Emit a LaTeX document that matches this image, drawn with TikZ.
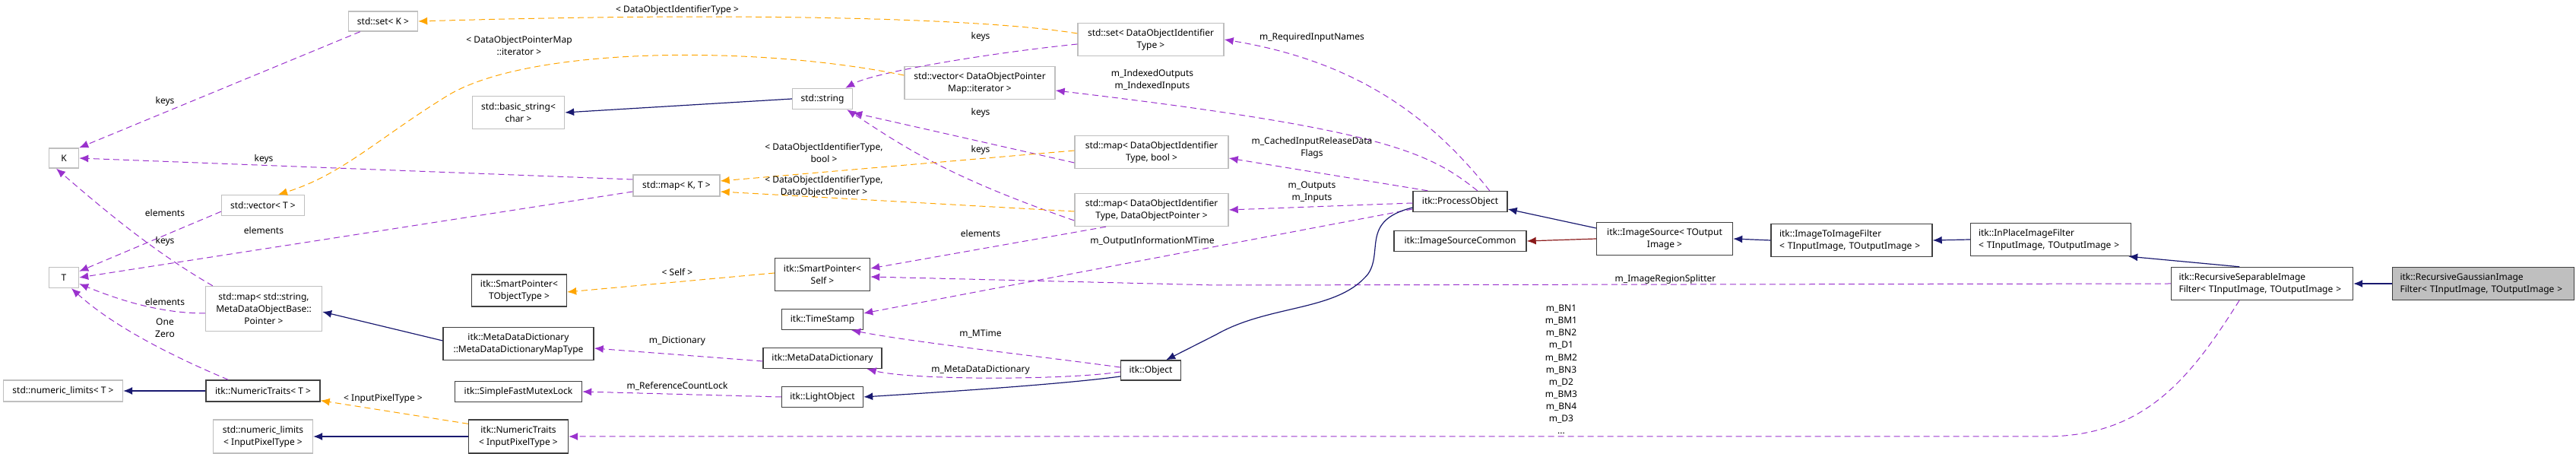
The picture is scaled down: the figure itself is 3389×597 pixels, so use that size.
\documentclass[tikz,border=0pt]{standalone}
\usepackage{fontspec}
\setmainfont{Noto Sans}
\usetikzlibrary{arrows.meta}
\definecolor{usecol}{HTML}{9A32CD}
\definecolor{tplcol}{HTML}{FFA500}
\definecolor{inhcol}{HTML}{191970}
\definecolor{prvcol}{HTML}{8B1A1A}
\definecolor{extbd}{HTML}{BFBFBF}
\definecolor{itkbd}{HTML}{404040}
\definecolor{selfill}{HTML}{BFBFBF}
\tikzset{x=0.5pt,y=-0.5pt,
 ext/.style={draw=extbd,line width=0.7pt,fill=white,inner sep=0pt,align=center,font=\fontsize{6}{8}\selectfont},
 itk/.style={ext,draw=itkbd},
 itkl/.style={itk,align=left,text width=#1,inner xsep=5pt},
 sel/.style={itkl=#1,fill=selfill},
 use/.style={draw=usecol,dash pattern=on 4pt off 2.5pt,line width=0.5pt,-{Latex[length=6pt,width=5pt]}},
 tpl/.style={use,draw=tplcol},
 inh/.style={draw=inhcol,line width=0.6pt,-{Latex[length=6pt,width=5pt]}},
 prv/.style={inh,draw=prvcol},
 lbl/.style={font=\fontsize{6}{8}\selectfont,align=center,inner sep=0pt}
}
\newcommand\bx[6]{\node[#1,minimum width=#4*0.5pt,minimum height=#5*0.5pt] (#2) at (#3) {#6};}
\begin{document}
\begin{tikzpicture}
\useasboundingbox (0,0) rectangle (3389,597);
% nodes
\bx{ext}{setK}{504,28}{91}{26}{std::set< K >}
\bx{ext}{K}{84,208}{39}{26}{K}
\bx{ext}{vecT}{346,270}{109}{27}{std::vector< T >}
\bx{ext}{T}{84,365}{39}{27}{T}
\bx{ext}{mapstr}{347,406}{153}{59}{std::map< std::string,\\ MetaDataObjectBase::\\ Pointer >}
\bx{ext}{nlT}{83,514}{157}{28}{std::numeric\_limits< T >}
\bx{itk}{ntT}{346,514}{150}{28}{itk::NumericTraits< T >}
\bx{ext}{nlIPT}{346,574}{131}{44}{std::numeric\_limits\\< InputPixelType >}
\bx{itk}{ntIPT}{682,574}{131}{44}{itk::NumericTraits\\< InputPixelType >}
\bx{itk}{spT}{683,382}{125}{42}{itk::SmartPointer<\\ TObjectType >}
\bx{itk}{mdmap}{682,452}{198}{43}{itk::MetaDataDictionary\\::MetaDataDictionaryMapType}
\bx{itk}{sfml}{682,515}{167}{27}{itk::SimpleFastMutexLock}
\bx{ext}{bstr}{682,148}{121}{43}{std::basic\_string<\\ char >}
\bx{ext}{str}{1082,130}{79}{27}{std::string}
\bx{ext}{mapKT}{890,244}{114}{28}{std::map< K, T >}
\bx{itk}{spS}{1082,361}{125}{43}{itk::SmartPointer<\\ Self >}
\bx{itk}{ts}{1082,420}{107}{27}{itk::TimeStamp}
\bx{itk}{mdd}{1082,471}{156}{27}{itk::MetaDataDictionary}
\bx{itk}{lo}{1082,522}{107}{27}{itk::LightObject}
\bx{ext}{vecIt}{1289,109}{198}{43}{std::vector< DataObjectPointer\\ Map::iterator >}
\bx{ext}{setD}{1514,52}{192}{43}{std::set< DataObjectIdentifier\\ Type >}
\bx{ext}{mapB}{1515,200}{202}{43}{std::map< DataObjectIdentifier\\ Type, bool >}
\bx{ext}{mapP}{1515,276}{202}{43}{std::map< DataObjectIdentifier\\ Type, DataObjectPointer >}
\bx{itk}{po}{1921,265}{124}{27}{itk::ProcessObject}
\bx{itk}{isc}{1921,317}{174}{27}{itk::ImageSourceCommon}
\bx{itk}{obj}{1514,487}{79}{26}{itk::Object}
\bx{itk}{is}{2190,314}{179}{43}{itk::ImageSource< TOutput\\ Image >}
\bx{itkl=190pt*0.5}{iti}{2436,316}{212}{43}{itk::ImageToImageFilter\\< TInputImage, TOutputImage >}
\bx{itkl=190pt*0.5}{ip}{2698,315}{211}{43}{itk::InPlaceImageFilter\\< TInputImage, TOutputImage >}
\bx{itkl=219pt*0.5}{rs}{2976,373}{239}{43}{itk::RecursiveSeparableImage\\Filter< TInputImage, TOutputImage >}
\bx{sel=219pt*0.5}{rg}{3267,373}{239}{43}{itk::RecursiveGaussianImage\\Filter< TInputImage, TOutputImage >}
% usage edges
\draw[use] ([xshift=8pt]setK.south west) -- (K.north east);
\draw[use] ([yshift=4pt]mapKT.west) -- (K.east);
\draw[use] ([yshift=3pt]vecT.south west) -- ([yshift=-3pt]T.north east);
\draw[use] ([yshift=-4pt]mapKT.west) -- (T.east);
\draw[use] ([xshift=5pt]mapstr.north west) .. controls (200,330) and (130,270) .. ([xshift=-5pt]K.south);
\draw[use] ([yshift=-3pt]mapstr.west) .. controls (220,412) and (170,400) .. ([yshift=3pt]T.south east);
\draw[use] ([xshift=15pt]ntT.north west) .. controls (230,470) and (150,430) .. ([xshift=5pt]T.south);
\draw[use] ([yshift=-3pt]setD.west) .. controls (1300,70) and (1150,95) .. ([xshift=-5pt]str.north east);
\draw[use] ([yshift=-7pt]mapB.west) -- ([yshift=-2pt]str.south east);
\draw[use] ([yshift=-7pt]mapP.west) .. controls (1240,230) and (1185,190) .. ([xshift=-4pt]str.south east);
\draw[use] ([xshift=-12pt]po.north east) .. controls (1880,150) and (1780,80) .. ([yshift=0pt]setD.east);
\draw[use] ([xshift=-20pt]po.north east) .. controls (1880,200) and (1820,170) .. ([yshift=-5pt]vecIt.east);
\draw[use] ([xshift=10pt]po.north west) -- ([yshift=-4pt]mapB.east);
\draw[use] ([yshift=-1pt]po.west) -- (mapP.east);
\draw[use] ([xshift=-30pt]mapP.south) -- ([yshift=4pt]spS.east);
\draw[use] ([yshift=-5pt]po.west) -- ([yshift=4pt]ts.east);
\draw[use] (rs.west) -- (1600,375) -- ([yshift=-1.5pt]spS.east);
\draw[use] ([yshift=2pt]obj.west) .. controls (1380,470) and (1200,450) .. ([xshift=-8pt]ts.south east);
\draw[use] ([yshift=-1pt]obj.west) .. controls (1400,500) and (1200,500) .. ([xshift=-10pt]mdd.south east);
\draw[use] ([yshift=-2pt]mdd.west) -- ([yshift=-3pt]mdmap.east);
\draw[use] (lo.west) -- (sfml.east);
\draw[use] ([xshift=-15pt]rs.south) .. controls (2880,500) and (2820,574) .. (2690,574) -- (ntIPT.east);
% template edges
\draw[tpl] ([yshift=4pt]setD.west) .. controls (1300,25) and (1000,15) .. ([yshift=0pt]setK.east);
\draw[tpl] ([yshift=5pt]vecIt.west) .. controls (1000,60) and (700,60) .. (590,125) .. controls (500,180) and (450,230) .. ([xshift=10pt]vecT.north);
\draw[tpl] ([yshift=1pt]mapB.west) -- ([yshift=3pt]mapKT.east);
\draw[tpl] ([yshift=-1pt]mapP.west) -- ([yshift=-4pt]mapKT.east);
\draw[tpl] ([yshift=1pt]spS.west) -- ([yshift=-1pt]spT.east);
\draw[tpl] ([yshift=-3pt]ntIPT.north west) -- ([yshift=1pt]ntT.south east);
% inheritance
\draw[inh] (str.west) -- (bstr.east);
\draw[inh] ([yshift=2pt]mdmap.west) -- ([yshift=-2pt]mapstr.east);
\draw[inh] (ntT.west) -- (nlT.east);
\draw[inh] (ntIPT.west) -- (nlIPT.east);
\draw[inh] ([yshift=-4pt]obj.west) .. controls (1400,505) and (1250,515) .. (lo.east);
\draw[inh] ([yshift=-4pt]po.west) .. controls (1790,290) and (1820,330) .. (1800,360) .. controls (1760,410) and (1670,400) .. (1600,440) -- ([xshift=-10pt]obj.north east);
\draw[inh] ([yshift=7pt]is.west) -- ([yshift=-5pt]po.east);
\draw[inh] (iti.west) -- (is.east);
\draw[inh] (ip.west) -- (iti.east);
\draw[inh] ([xshift=-75pt]rs.north east) -- ([xshift=-2pt]ip.south east);
\draw[inh] (rg.west) -- (rs.east);
\draw[prv] (is.west) -- (isc.east);
% labels
\node[lbl] (l1) at (217,133) {keys};
\node[lbl] (l2) at (347,209) {keys};
\node[lbl] (l3) at (217,280) {elements};
\node[lbl] (l4) at (347,303) {elements};
\node[lbl] (l5) at (217,317) {keys};
\node[lbl] (l6) at (217,397) {elements};
\node[lbl] (l7) at (217,431) {One\\Zero};
\node[lbl] (l8) at (504,524) {< InputPixelType >};
\node[lbl] (l9) at (683,60) {< DataObjectPointerMap\\::iterator >};
\node[lbl] (l10) at (891,13) {< DataObjectIdentifierType >};
\node[lbl] (l11) at (1290,48) {keys};
\node[lbl] (l12) at (1290,148) {keys};
\node[lbl] (l13) at (1290,197) {keys};
\node[lbl] (l14) at (1084,201) {< DataObjectIdentifierType,\\bool >};
\node[lbl] (l15) at (1084,245) {< DataObjectIdentifierType,\\DataObjectPointer >};
\node[lbl] (l16) at (1290,307) {elements};
\node[lbl] (l17) at (891,358) {< Self >};
\node[lbl] (l18) at (1290,439) {m\_MTime};
\node[lbl] (l19) at (1290,487) {m\_MetaDataDictionary};
\node[lbl] (l20) at (891,449) {m\_Dictionary};
\node[lbl] (l21) at (891,508) {m\_ReferenceCountLock};
\node[lbl] (l22) at (1726,49) {m\_RequiredInputNames};
\node[lbl] (l23) at (1516,105) {m\_IndexedOutputs\\m\_IndexedInputs};
\node[lbl] (l24) at (1726,194) {m\_CachedInputReleaseData\\Flags};
\node[lbl] (l25) at (1726,253) {m\_Outputs\\m\_Inputs};
\node[lbl] (l26) at (1516,317) {m\_OutputInformationMTime};
\node[lbl] (l27) at (2191,367) {m\_ImageRegionSplitter};
\node[lbl,font=\fontsize{6}{8.05}\selectfont] (l28) at (2054,486) {m\_BN1\\m\_BM1\\m\_BN2\\m\_D1\\m\_BM2\\m\_BN3\\m\_D2\\m\_BM3\\m\_BN4\\m\_D3\\...};
\end{tikzpicture}
\end{document}
